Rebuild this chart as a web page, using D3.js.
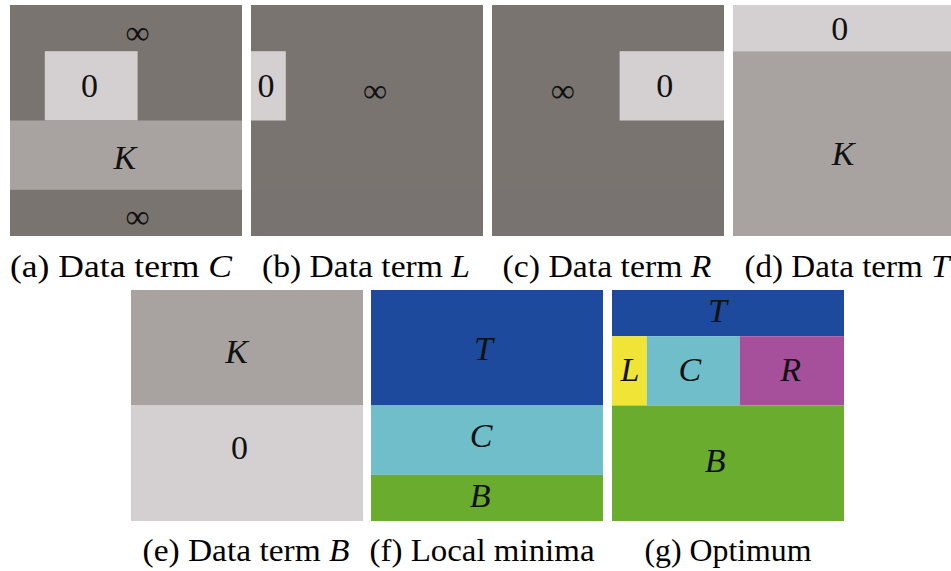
<!DOCTYPE html>
<html><head><meta charset="utf-8">
<script src="https://cdn.jsdelivr.net/npm/d3@7"></script>
<style>html,body{margin:0;padding:0;background:#fff;} svg{display:block;}</style>
</head><body>
<svg id="chart" width="951" height="571"></svg>
<script>
// ---- data (grid units 0..20 inside each panel) ----
const panelIds = ["a","b","c","d","e","f","g"];
const captionText = ["(a) Data term ","(b) Data term ","(c) Data term ","(d) Data term ","(e) Data term ","(f) Local minima","(g) Optimum"];
const captionVar  = ["C","L","R","T","B","",""];
// regions: [panel, kind, x0, x1, y0, y1]
const regions = [
  ["a","inf",0,20,0,20],["a","zero",3,11,4,10],["a","K",0,20,10,16],
  ["b","inf",0,20,0,20],["b","inf2",0,20,16,20],["b","zero",0,3,4,10],
  ["c","inf",0,20,0,20],["c","inf2",0,20,16,20],["c","zero",11,20,4,10],
  ["d","zero",0,20,0,4],["d","K",0,20,4,20],
  ["e","K",0,20,0,10],["e","zero",0,20,10,20],
  ["f","T",0,20,0,10],["f","C",0,20,10,16],["f","B",0,20,16,20],
  ["g","T",0,20,0,4],["g","L",0,3,4,10],["g","C",3,11,4,10],["g","R",11,20,4,10],["g","B",0,20,10,20]
];
// labels: [panel, text, x, y, italic]
const labels = [
  ["a","∞",11.0,2.4,0],["a","0",6.85,7.0,0],["a","K",9.9,13.2,1],["a","∞",11.0,18.3,0],
  ["b","0",1.3,7.0,0],["b","∞",10.7,7.4,0],
  ["c","∞",6.1,7.4,0],["c","0",14.9,7.0,0],
  ["d","0",9.2,2.0,0],["d","K",9.5,12.9,1],
  ["e","K",9.1,5.3,1],["e","0",9.35,13.6,0],
  ["f","T",9.7,5.1,1],["f","C",9.5,12.6,1],["f","B",9.4,17.8,1],
  ["g","T",9.1,1.8,1],["g","L",1.55,6.9,1],["g","C",6.7,6.9,1],["g","R",15.4,6.9,1],["g","B",8.9,14.8,1]
];

// ---- styling / layout ----
const colors = {inf:"#7a7471", inf2:"#787270", zero:"#d4d0d1", K:"#a8a3a0",
  T:"#1d4a9c", C:"#70beca", B:"#6aad2e", L:"#f0e437", R:"#a6509c"};
const origin = {a:[10,5], b:[251,5], c:[492,5], d:[733,5], e:[131,290], f:[371,290], g:[612,290]};
const capLayout = {a:[121,222,277], b:[366,208,277], c:[607,209,277], d:[847,205,277],
                   e:[246,207,561], f:[482,225,561], g:[728,167,561]};
const PW = 232, PH = 231;
const x = d3.scaleLinear().domain([0,20]).range([0,PW]);
const y = d3.scaleLinear().domain([0,20]).range([0,PH]);
const font = "'Liberation Serif', 'Times New Roman', serif";

const svg = d3.select("#chart");
svg.append("rect").attr("width",951).attr("height",571).attr("fill","#fff");

const g = svg.selectAll("g.panel").data(panelIds).join("g")
  .attr("class","panel")
  .attr("transform", d => `translate(${origin[d][0]},${origin[d][1]})`);

g.each(function(p){
  const sel = d3.select(this);
  sel.selectAll("rect").data(regions.filter(r => r[0]===p)).join("rect")
    .attr("x", r => x(r[2])).attr("y", r => y(r[4]))
    .attr("width", r => x(r[3]) - x(r[2])).attr("height", r => y(r[5]) - y(r[4]))
    .attr("fill", r => colors[r[1]]);
  sel.selectAll("text").data(labels.filter(l => l[0]===p)).join("text")
    .attr("x", l => x(l[2])).attr("y", l => y(l[3]))
    .attr("text-anchor","middle").attr("dominant-baseline","central")
    .attr("font-family", font)
    .attr("font-size", l => l[1]==="∞" ? 34 : 34)
    .attr("font-style", l => l[4] ? "italic" : "normal")
    .attr("fill","#111")
    .text(l => l[1]);
});

// captions
panelIds.forEach((p,i) => {
  const [cx, w, by] = capLayout[p];
  const t = svg.append("text")
    .attr("x", cx - w/2).attr("y", by)
    .attr("text-anchor","start")
    .attr("textLength", w).attr("lengthAdjust","spacingAndGlyphs")
    .attr("font-family", font).attr("font-size", 31).attr("fill","#000");
  t.append("tspan").text(captionText[i]);
  if (captionVar[i]) t.append("tspan").attr("font-style","italic").text(captionVar[i]);
});
</script>
</body></html>
